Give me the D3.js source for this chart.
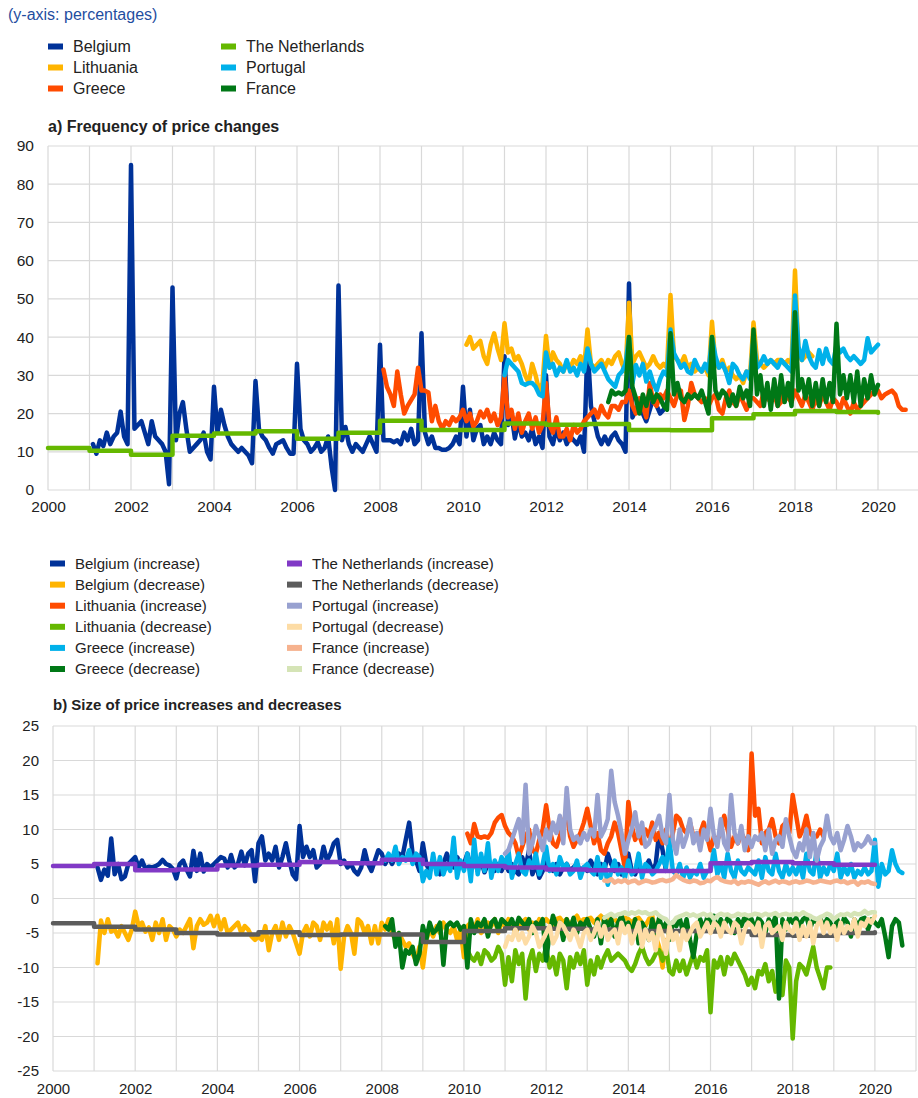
<!DOCTYPE html>
<html>
<head>
<meta charset="utf-8">
<script src="https://cdn.jsdelivr.net/npm/d3@7"></script>
<style>
  body { margin: 0; background: #fff; }
  text { font-family: Arial, "Liberation Sans", sans-serif; }
</style>
</head>
<body>
<svg id="chart" width="918" height="1098"></svg>
<script>
// ---------- data: panel a) frequency of price changes (monthly, %) ----------
const belgiumFreqStart = "2001-02";
const belgiumFreq = [
  12, 9.5, 13, 11.5, 15, 12, 14, 15, 20.5, 14, 12,
  85, 16, 17, 18, 15, 12, 18, 14, 13, 12, 10, 1.5,
  53, 13, 20, 23, 16, 10, 11, 12, 13, 15, 10, 8,
  27, 15, 21, 17, 14, 12, 11, 10, 11, 10, 9, 7,
  28.5, 16, 14, 13, 11, 9.5, 12, 12.5, 13, 11, 9.5, 9.5,
  33, 16, 13, 12, 10, 11, 12.5, 10, 11, 14, 6, 0,
  53.5, 13, 16.5, 12, 10, 12, 11, 10, 12, 14, 12, 10,
  38, 13, 13, 13, 12.5, 13, 12, 15, 13, 16, 12, 13,
  41, 15, 12, 14, 11, 11, 10.5, 10.5, 11, 12, 14, 12,
  27, 14, 21, 13, 16, 17, 12, 14, 12, 15, 13, 12,
  35, 17, 20, 13.5, 18, 14, 15, 13, 16, 12, 14, 11,
  30, 14, 12, 16, 13, 15, 12, 14, 13, 12, 14, 10,
  38, 22, 18, 14, 12, 14, 12, 14, 15, 13, 12, 10,
  54, 19, 21, 22, 20, 18, 21, 24, 22, 20, 21, 23
];
const lithuaniaFreqStart = "2010-02";
const lithuaniaFreq = [
  38, 40, 37, 38, 39, 35, 33, 38, 41, 37, 34,
  43.6, 36, 37, 34, 35, 33, 30, 28, 33, 30, 26, 28,
  40.3, 32, 36, 34, 33, 31, 33, 32, 34, 33, 35, 32,
  42, 33, 32, 33, 34, 32, 34, 33, 35, 36, 33, 31,
  49, 33, 35, 36, 34, 32, 33, 35, 33, 32, 33, 32,
  51, 35, 34, 33, 35, 32, 33, 31, 32, 31, 32, 30,
  44, 33, 32, 34, 31, 32, 30, 29, 30, 28, 31, 30,
  43.8, 34, 33, 32, 33, 34, 33, 34, 34, 33, 34, 33,
  57.4, 36, 34, 35, 36, 35
];
const greeceFreqStart = "2008-02";
const greeceFreq = [
  31.5, 27, 25, 22, 31, 25, 20, 22, 23.5, 25, 32,
  26, 26, 25.5, 18, 22, 18, 16, 18, 17, 19, 18, 19,
  21, 18, 20, 16.6, 18, 20.5, 19, 21, 18, 20, 17, 19,
  30, 19, 21, 16, 20, 15, 18, 20, 16, 19, 15, 17,
  28, 17, 15, 19, 14, 14, 16, 13, 17, 15, 16, 18,
  19, 20, 21, 19, 22, 20, 19, 22, 22, 21, 23, 23,
  26, 22, 20, 24, 22, 19, 28, 23, 22, 25, 24, 26,
  24, 22, 25, 26, 18.3, 22, 28, 25, 24, 23, 24, 22,
  24, 25, 21, 20, 24, 26, 23, 22, 25, 23, 21, 24,
  24, 23, 22, 26, 24, 23, 25, 22, 23, 26, 24, 23,
  26, 24, 22, 25, 23, 21, 24, 22, 25, 23, 21, 24,
  23, 21, 24, 22, 20, 23, 21, 22, 23, 24, 25, 26,
  26, 24, 25, 25.5, 26, 25, 22, 21, 21
];
const portugalFreqStart = "2011-01";
const portugalFreq = [
  30, 34, 33, 32, 31, 28, 27.5, 28, 28, 27, 25, 24.5,
  36, 32, 33, 30, 32, 31, 34, 31, 32, 30, 33, 31,
  37, 33, 31, 32, 33, 31, 29, 28, 27, 30, 31, 33,
  40, 28, 32.7, 30, 33, 28.4, 31, 28, 26, 29, 31, 30,
  42, 35.8, 34, 32, 33, 31, 30.5, 34, 32, 31, 33, 31,
  40, 35, 32, 33, 31, 28, 33, 32, 30, 29, 31, 29,
  40, 32, 33, 35, 33, 34, 33, 32, 34, 33, 32, 31,
  50.9, 37.5, 34, 39, 35, 33, 32, 36.6, 33, 37, 34, 33,
  38, 36, 37, 35, 34, 35, 34, 33, 34, 39.7, 36, 37,
  38
];
const franceFreqStart = "2013-07";
const franceFreq = [
  23, 26, 25, 25.5, 25, 26,
  40, 27, 24, 20, 25, 22, 26, 23, 25, 24, 22, 21,
  41, 25, 28, 24, 23, 25, 24, 25, 24, 26, 23, 20,
  40, 26, 24, 26, 25, 22, 25, 22, 27, 24, 26, 22,
  42, 25, 30, 22, 28, 21, 29, 22, 30, 23, 28, 22,
  46.5, 26, 29, 24, 29, 22, 28, 22, 29, 23, 28, 23,
  43.5, 25, 30, 24, 30, 23, 31, 22, 29, 24, 30, 25,
  27.5
];
// The Netherlands: annual figures, 2000 ... 2019, last value closes the line at 2020
const netherlandsFreqStartYear = 2000;
const netherlandsFreq = [11, 10.3, 9.2, 14.2, 14.8, 15.4, 13.4, 15.0, 18.1, 15.7, 15.7,
  17.4, 17.1, 17.3, 15.7, 15.6, 18.8, 19.8, 20.7, 20.4, 20.2];

// ---------- data: panel b) size of price increases and decreases (monthly, %) ----------
const belgiumSizeStart = "2001-02";
const belgiumInc = [
  4.5, 2.7, 4.2, 3.3, 8.7, 3.5, 5.0, 2.8, 3.2, 5.0, 5.5,
  6.0, 4.5, 5.5, 4.3, 4.6, 4.5, 4.7, 5.0, 5.6, 5.0, 4.8, 4.3,
  2.9, 5.0, 5.5, 4.2, 3.2, 6.9, 4.0, 6.5, 3.9, 5.0, 4.5, 5.0,
  5.5, 6.0, 5.8, 4.5, 6.3, 4.5, 5.0, 6.8, 4.8, 6.5, 7.0, 2.5,
  8.0, 9.0, 5.5, 6.5, 5.5, 7.5, 4.5, 6.0, 8.0, 5.5, 3.5, 2.8,
  10.5, 6.0, 7.5, 6.0, 7.0, 4.5, 5.0, 7.5, 5.5, 6.5, 8.0, 8.5,
  5.0, 5.5, 4.5, 5.0, 4.0, 3.5, 4.5, 7.0, 5.0, 4.0, 5.5, 7.0,
  6.5, 5.0, 6.0, 5.0, 6.0, 6.5, 6.0, 8.5, 11.0, 6.5, 5.5, 4.0,
  8.0, 5.0, 4.0, 5.5, 4.5, 3.5, 5.0, 6.5, 5.0, 4.5, 6.0, 5.0,
  5.0, 6.5, 4.5, 5.5, 4.0, 5.5, 3.8, 5.0, 4.5, 4.0, 5.0, 4.0,
  5.5, 4.0, 5.0, 4.0, 3.5, 6.0, 4.5, 7.0, 3.5, 5.0, 3.0, 4.0,
  5.5, 4.5, 4.0, 5.0, 3.5, 4.5, 5.0, 4.0, 4.5, 5.0, 4.0, 4.5,
  4.0, 5.5, 4.5, 3.5, 5.0, 4.0, 6.5, 5.0, 4.0, 5.0, 3.5, 4.5,
  6.5, 4.0, 3.5, 5.0, 4.0, 4.5, 5.5, 4.0, 5.0, 9.5, 7.0, 4.0
];
const belgiumDec = [
  -9.4, -3.2, -5.0, -3.0, -4.8, -4.5, -5.5, -4.0, -5.0, -6.0, -4.5,
  -1.9, -4.0, -3.5, -4.8, -4.2, -6.0, -3.5, -5.0, -3.0, -6.0, -4.0, -4.5,
  -5.5, -4.5, -5.0, -4.0, -3.0, -7.2, -4.0, -3.0, -3.8, -3.5, -2.5, -4.0,
  -2.5, -4.5, -3.0, -5.0, -4.5, -4.0, -3.5, -5.0, -4.0, -4.5, -5.5, -6.0,
  -5.5, -6.0, -4.0, -7.5, -5.0, -4.0, -6.0, -3.5, -5.5, -4.0, -5.0, -6.5,
  -8.0, -5.0, -4.0, -5.5, -3.5, -4.0, -6.0, -3.5, -4.5, -3.5, -6.5, -3.0,
  -10.2, -5.5, -4.0, -5.0, -8.0, -3.0, -3.5, -5.0, -4.0, -6.5, -4.0, -6.5,
  -3.5, -4.5, -3.0, -5.0, -6.0, -5.0, -6.0, -7.0, -6.5, -8.0, -9.0, -7.0,
  -10.0, -6.0, -4.5, -5.5, -4.0, -5.0, -3.5, -4.5, -5.0, -4.0, -6.0, -4.5,
  -8.5, -4.0, -3.5, -4.5, -3.0, -5.0, -4.5, -3.5, -4.0, -3.0, -5.0, -3.5,
  -4.0, -3.0, -3.5, -5.0, -4.0, -3.5, -3.0, -4.5, -3.5, -4.0, -3.0, -3.5,
  -3.0, -3.5, -4.0, -3.0, -2.8, -3.5, -3.0, -4.0, -3.0, -2.5, -3.5, -3.0,
  -3.0, -2.8, -3.5, -3.0, -2.5, -3.5, -3.0, -2.8, -3.0, -3.5, -3.0, -2.8,
  -3.0, -3.5, -3.0, -2.8, -3.5, -4.0, -3.0, -2.5, -5.5, -7.0, -10.0, -6.0
];
const lithuaniaSizeStart = "2010-02";
const lithuaniaInc = [
  9.4, 8.0, 10.8, 9.0, 8.8, 9.0, 8.8, 9.5, 11.0, 11.7, 12.1,
  10.5, 9.5, 9.0, 8.0, 6.0, 7.5, 9.0, 10.0, 7.0, 6.5, 8.5, 10.0,
  13.5, 10.0, 8.0, 7.5, 9.0, 11.0, 12.5, 9.0, 7.5, 8.5, 9.5, 11.0,
  13.0, 10.5, 8.0, 9.5, 7.0, 6.5, 8.0, 9.0, 11.0, 9.5, 7.0, 4.5,
  14.0, 10.5, 8.5, 9.5, 8.0, 10.0, 9.0, 11.0, 8.5, 9.5, 8.0, 10.0,
  7.0, 9.5, 12.0, 11.5, 10.0, 9.5, 11.0, 9.0, 8.5, 9.5, 11.0, 9.0,
  7.0, 9.0, 8.5, 9.5, 12.0, 10.0, 7.5, 9.0, 8.0, 9.5, 8.5, 7.0,
  21.0, 12.0, 13.0, 8.0, 9.5, 10.0, 11.5, 9.0, 8.0, 10.5, 11.0, 9.5,
  15.0, 12.0, 9.0, 10.0, 12.0, 9.5, 9.0, 9.0, 10.0, 9.0
];
const lithuaniaDec = [
  -7.5, -8.5, -9.0, -8.0, -9.5, -7.5, -8.0, -9.0, -8.5, -7.0, -8.0,
  -12.5, -8.5, -12.0, -7.5, -9.5, -8.0, -14.5, -9.0, -7.5, -10.5, -8.0, -9.0,
  -7.0, -10.0, -8.5, -11.0, -8.0, -9.0, -13.0, -8.5, -10.0, -8.0, -9.5, -7.5,
  -12.5, -9.0, -11.0, -8.5, -10.0, -8.5, -7.5, -9.0, -8.5, -8.0, -8.5, -9.0,
  -10.0, -10.5, -9.5, -8.0, -7.0, -8.5, -9.5, -9.0, -8.0, -7.5, -9.0, -7.0,
  -10.5, -11.0, -9.0, -10.5, -9.0, -11.0, -9.5, -8.0, -10.0, -8.5, -9.0, -7.5,
  -16.5, -9.0, -10.0, -8.5, -11.0, -8.5, -9.5, -8.0, -9.0, -10.0, -11.0, -12.5,
  -11.5, -13.0, -10.5, -11.0, -9.5, -12.0, -10.5, -13.5, -11.5, -14.0, -9.0, -10.0,
  -20.3, -12.0, -9.5, -10.0, -11.0, -9.0, -7.0, -10.0, -11.5, -13.0, -10.0, -10.0
];
const greeceSizeStart = "2008-02";
const greeceInc = [
  5.5, 6.5, 5.5, 7.5, 5.0, 6.0, 5.5, 7.0, 5.0, 6.5, 6.0,
  2.5, 4.0, 3.0, 6.5, 3.5, 6.0, 3.5, 5.0, 4.0, 8.8, 3.0, 5.5,
  4.0, 6.5, 2.5, 8.5, 3.5, 6.5, 4.0, 8.0, 3.0, 5.5, 4.0, 6.0,
  4.5, 7.0, 3.0, 5.0, 6.5, 4.0, 3.5, 5.5, 4.5, 6.5, 3.5, 5.0,
  7.5, 4.0, 5.0, 3.5, 6.0, 4.5, 5.0, 3.5, 4.0, 5.5, 3.0, 4.5,
  5.0, 4.0, 3.5, 6.0, 3.0, 5.0, 2.0, 4.0, 5.5, 3.5, 4.5, 3.0,
  5.5, 3.5, 4.0, 6.5, 3.0, 5.0, 4.5, 3.5, 4.0, 5.0, 6.0, 4.5,
  8.5, 4.0, 3.5, 5.0, 3.0, 4.5, 3.0, 4.0, 3.5, 5.0, 3.0, 4.0,
  4.0, 7.0, 3.5, 5.0, 3.0, 6.5, 4.0, 3.0, 5.5, 4.0, 3.5, 4.5,
  4.0, 3.5, 5.5, 3.0, 6.0, 4.0, 3.5, 6.5, 4.0, 3.0, 5.0, 3.5,
  4.5, 3.5, 5.0, 3.0, 6.5, 4.0, 3.5, 7.0, 3.0, 4.5, 3.5, 5.0,
  4.0, 6.5, 3.0, 4.5, 3.5, 5.0, 3.0, 4.0, 3.5, 4.5, 3.5, 4.0,
  8.5, 1.7, 5.0, 3.5, 4.0, 7.0, 5.0, 4.0, 3.7
];
const greeceDec = [
  -4.0, -4.5, -3.0, -7.0, -5.0, -10.0, -7.5, -8.0, -7.0, -9.5, -8.0,
  -4.0, -6.0, -3.5, -5.0, -4.5, -3.5, -9.6, -4.0, -3.5, -4.0, -3.5, -4.5,
  -4.0, -10.0, -3.0, -5.0, -3.5, -4.0, -3.0, -5.5, -3.5, -3.0, -4.5, -3.0,
  -3.5, -4.0, -3.0, -4.5, -2.8, -3.5, -4.0, -3.0, -5.0, -3.5, -4.0, -3.0,
  -9.0, -5.0, -2.5, -4.0, -3.5, -6.0, -3.0, -4.5, -2.8, -5.0, -3.5, -4.0,
  -3.0, -4.5, -5.5, -3.0, -6.5, -2.8, -4.0, -3.0, -5.5, -3.5, -2.5, -4.0,
  -3.5, -5.0, -3.0, -6.5, -3.5, -4.5, -6.0, -3.0, -5.0, -2.8, -4.5, -3.5,
  -6.0, -3.5, -4.0, -2.8, -5.0, -3.0, -6.0, -8.5, -5.0, -3.0, -4.5, -2.8,
  -3.5, -2.5, -4.5, -3.0, -4.0, -2.8, -3.5, -5.0, -3.0, -4.0, -2.6, -3.5,
  -3.0, -4.5, -2.8, -3.5, -5.0, -3.0, -4.0, -2.5, -14.5, -3.0, -4.5, -2.8,
  -3.5, -2.8, -4.0, -3.0, -2.6, -4.5, -3.0, -3.5, -2.8, -4.0, -3.0, -3.5,
  -5.0, -3.0, -4.5, -2.8, -3.5, -5.5, -3.0, -4.0, -3.0, -2.8, -4.5, -3.0,
  -3.5, -4.0, -3.0, -5.5, -8.5, -4.0, -3.0, -3.5, -6.8
];
const portugalSizeStart = "2011-01";
const portugalInc = [
  6.5, 7.0, 8.5, 10.0, 11.5, 8.0, 16.5, 6.5, 8.0, 10.5, 9.0, 7.0,
  10.0, 8.5, 11.0, 9.5, 12.0, 8.0, 16.0, 10.0, 8.5, 9.0, 8.0, 9.5,
  8.5, 10.0, 9.0, 15.0, 9.0, 10.0, 11.5, 18.5, 14.0, 12.0, 9.5, 6.5,
  8.5, 10.0, 12.5, 9.0, 11.0, 7.5, 8.0, 9.5, 10.5, 12.0, 9.0, 8.0,
  15.0, 8.5, 6.5, 10.0, 7.5, 9.0, 11.5, 8.0, 9.5, 7.0, 10.0, 8.5,
  13.0, 9.0, 7.5, 11.5, 8.0, 7.0, 15.0, 9.5, 8.0, 10.5, 7.0, 9.0,
  7.5, 9.0, 8.5, 9.5, 7.0, 10.0, 6.5, 8.5, 9.0, 7.5, 11.5, 9.0,
  7.0, 6.0, 8.0, 7.0, 10.0, 6.0, 9.5, 5.5, 7.5, 8.5, 12.0, 9.0,
  8.0, 9.5, 7.0, 8.5, 10.5, 9.0, 7.0, 8.0, 7.5, 8.0, 9.0, 8.0,
  8.0
];
const portugalDec = [
  -7.0, -5.5, -6.0, -4.5, -6.0, -5.0, -6.5, -5.5, -4.0, -5.0, -7.0, -6.0,
  -5.0, -4.0, -6.5, -5.5, -3.5, -4.0, -5.0, -6.0, -4.5, -5.5, -7.0, -5.0,
  -4.5, -6.0, -5.0, -3.5, -5.5, -4.0, -6.0, -5.0, -4.5, -6.5, -3.5, -5.0,
  -4.0, -6.5, -5.0, -3.5, -7.0, -4.5, -6.0, -5.0, -7.5, -4.0, -5.5, -8.0,
  -4.0, -6.0, -5.0, -7.5, -4.5, -6.0, -5.0, -4.0, -3.5, -5.5, -4.5, -3.5,
  -5.0, -3.5, -4.0, -5.5, -3.5, -4.5, -5.0, -3.5, -4.0, -6.5, -4.5, -3.5,
  -4.0, -5.0, -3.5, -7.0, -4.0, -3.5, -5.0, -4.5, -4.0, -6.0, -3.5, -4.5,
  -5.0, -3.5, -6.0, -4.0, -5.5, -3.5, -6.5, -4.0, -3.0, -5.0, -3.5, -5.0,
  -4.0, -6.0, -3.5, -5.0, -4.0, -4.5, -3.0, -5.5, -3.5, -4.0, -3.0, -3.5,
  -2.5
];
const franceSizeStart = "2013-06";
const franceInc = [
  2.6, 2.5, 2.8, 2.3, 2.6, 2.4, 2.7,
  2.3, 2.5, 2.6, 2.2, 2.4, 2.6, 2.5, 2.3, 2.4, 2.6, 2.7, 2.5,
  2.6, 2.8, 3.4, 3.0, 2.7, 2.5, 2.4, 2.6, 2.5, 2.2, 2.3, 2.6,
  2.5, 2.9, 3.1, 2.7, 2.5, 2.4, 2.3, 2.6, 2.1, 2.4, 2.3, 2.5,
  2.4, 2.2, 2.0, 2.3, 2.5, 2.2, 2.4, 2.6, 2.3, 2.5, 2.4, 2.2,
  2.4, 2.5, 2.3, 2.4, 2.6, 2.5, 2.3, 2.4, 2.6, 2.5, 2.4, 2.3,
  2.5, 2.6, 2.4, 2.5, 2.2, 2.4, 2.5, 2.0, 2.4, 2.3, 2.5, 2.2,
  2.1
];
const franceDec = [
  -2.8, -2.5, -2.2, -2.6, -2.3, -2.2, -2.0,
  -2.3, -2.0, -2.2, -1.9, -2.1, -2.0, -2.3, -2.2, -2.0, -2.5, -2.8, -3.0,
  -3.6, -3.5, -2.8, -2.6, -2.4, -2.2, -2.5, -2.3, -2.6, -2.4, -2.2, -2.5,
  -2.3, -3.0, -2.5, -2.2, -2.4, -2.3, -2.6, -2.5, -2.2, -2.4, -2.3, -2.5,
  -2.4, -2.2, -2.3, -2.5, -2.2, -2.4, -2.3, -2.1, -2.5, -2.3, -2.2, -2.4,
  -2.3, -2.2, -2.4, -2.0, -2.3, -2.5, -2.8, -3.0, -2.7, -2.5, -2.2, -2.4,
  -3.0, -2.6, -2.3, -2.4, -2.2, -2.5, -2.1, -2.3, -2.2, -1.8, -2.2, -2.0,
  -2.0
];
const netherlandsSizeStartYear = 2000;
const netherlandsInc = [4.7, 5.0, 4.1, 4.2, 4.8, 4.9, 5.3, 5.1, 5.6, 5.0, 4.7,
  4.5, 4.2, 4.1, 4.0, 4.0, 5.1, 5.3, 5.1, 4.9, 4.9];
const netherlandsDec = [-3.6, -4.1, -4.5, -5.0, -5.2, -4.9, -5.3, -5.2, -5.2, -6.3, -4.7,
  -4.3, -4.4, -4.5, -4.7, -4.7, -4.8, -5.3, -5.4, -5.0, -4.9];

// ---------- axis tick values ----------
const freqTicks = [0, 10, 20, 30, 40, 50, 60, 70, 80, 90];
const sizeTicks = [-25, -20, -15, -10, -5, 0, 5, 10, 15, 20, 25];
const yearLabels = [2000, 2002, 2004, 2006, 2008, 2010, 2012, 2014, 2016, 2018, 2020];
const yearGrid = d3.range(2000, 2022);

// ---------- helpers ----------
const startToYear = s => { const [y, m] = s.split("-").map(Number); return y + (m - 1) / 12; };
const monthly = (start, values) => values.map((v, i) => ({ t: startToYear(start) + i / 12, v }));
const annual = (startYear, values) => values.map((v, i) => ({ t: startYear + i, v }));

const svg = d3.select("#chart");

svg.append("text")
  .attr("x", 8).attr("y", 20)
  .attr("font-size", 16).attr("fill", "#1f4e9f")
  .text("(y-axis: percentages)");

function legend(items, x0, x1, y0, step, perCol, fontSize) {
  const g = svg.append("g");
  items.forEach((d, i) => {
    const col = Math.floor(i / perCol), row = i % perCol;
    const sx = col === 0 ? x0 : x1;
    const cy = y0 + row * step;
    g.append("rect").attr("x", sx).attr("y", cy - 3).attr("width", 15).attr("height", 6).attr("fill", d.color);
    g.append("text").attr("x", sx + 25).attr("y", cy + fontSize * 0.35)
      .attr("font-size", fontSize).attr("fill", "#222").text(d.name);
  });
}

function panel(cfg) {
  const x = d3.scaleLinear().domain([2000, 2021]).range([cfg.left, cfg.right]);
  const y = d3.scaleLinear().domain(cfg.yDomain).range([cfg.bottom, cfg.top]);
  const g = svg.append("g");

  g.append("text")
    .attr("x", cfg.left).attr("y", cfg.titleY)
    .attr("font-size", cfg.titleSize).attr("font-weight", "bold").attr("fill", "#222")
    .text(cfg.title);

  // grid
  g.append("g").selectAll("line").data(cfg.yTicks).join("line")
    .attr("x1", cfg.left).attr("x2", cfg.right)
    .attr("y1", d => y(d)).attr("y2", d => y(d))
    .attr("stroke", "#d9d9d9").attr("stroke-width", 1.2);
  g.append("g").selectAll("line").data(yearGrid).join("line")
    .attr("x1", d => x(d)).attr("x2", d => x(d))
    .attr("y1", cfg.top).attr("y2", cfg.bottom)
    .attr("stroke", "#d9d9d9").attr("stroke-width", 1.2);

  // axes (labels only)
  const ya = g.append("g").attr("transform", `translate(${cfg.left},0)`)
    .call(d3.axisLeft(y).tickValues(cfg.yTicks).tickSize(0).tickPadding(14).tickFormat(d => String(d)));
  const xa = g.append("g").attr("transform", `translate(0,${cfg.bottom})`)
    .call(d3.axisBottom(x).tickValues(yearLabels).tickSize(0).tickPadding(cfg.xPad).tickFormat(d => String(d)));
  [ya, xa].forEach(a => {
    a.select(".domain").remove();
    a.selectAll("text").attr("font-size", cfg.tickSize).attr("fill", "#222")
      .style("font-family", "Arial, 'Liberation Sans', sans-serif");
  });

  const line = d3.line().x(d => x(d.t)).y(d => y(d.v));
  const stepLine = d3.line().x(d => x(d.t)).y(d => y(d.v)).curve(d3.curveStepAfter);

  cfg.series.forEach(s => {
    g.append("path")
      .datum(s.points)
      .attr("d", s.step ? stepLine : line)
      .attr("fill", "none")
      .attr("stroke", s.color)
      .attr("stroke-width", 4.5)
      .attr("stroke-linejoin", "round")
      .attr("stroke-linecap", "round");
  });
}

// ---------- panel a ----------
const seriesA = [
  { name: "Belgium", color: "#003299", points: monthly(belgiumFreqStart, belgiumFreq) },
  { name: "Lithuania", color: "#ffb400", points: monthly(lithuaniaFreqStart, lithuaniaFreq) },
  { name: "Greece", color: "#ff4b00", points: monthly(greeceFreqStart, greeceFreq) },
  { name: "The Netherlands", color: "#65b800", step: true, points: annual(netherlandsFreqStartYear, netherlandsFreq) },
  { name: "Portugal", color: "#00b1ea", points: monthly(portugalFreqStart, portugalFreq) },
  { name: "France", color: "#007816", points: monthly(franceFreqStart, franceFreq) }
];
legend(seriesA, 48, 221, 46.5, 21, 3, 16);
panel({
  title: "a) Frequency of price changes", titleY: 132, titleSize: 16,
  left: 48, right: 919.5, top: 146, bottom: 490, tickSize: 15.5, xPad: 11,
  yDomain: [0, 90], yTicks: freqTicks, series: seriesA
});

// ---------- panel b ----------
const seriesB = [
  { name: "Belgium (increase)", color: "#003299", points: monthly(belgiumSizeStart, belgiumInc) },
  { name: "Belgium (decrease)", color: "#ffb400", points: monthly(belgiumSizeStart, belgiumDec) },
  { name: "Lithuania (increase)", color: "#ff4b00", points: monthly(lithuaniaSizeStart, lithuaniaInc) },
  { name: "Lithuania (decrease)", color: "#65b800", points: monthly(lithuaniaSizeStart, lithuaniaDec) },
  { name: "Greece (increase)", color: "#00b1ea", points: monthly(greeceSizeStart, greeceInc) },
  { name: "Greece (decrease)", color: "#007816", points: monthly(greeceSizeStart, greeceDec) },
  { name: "The Netherlands (increase)", color: "#8139c6", step: true, points: annual(netherlandsSizeStartYear, netherlandsInc) },
  { name: "The Netherlands (decrease)", color: "#5c5c5c", step: true, points: annual(netherlandsSizeStartYear, netherlandsDec) },
  { name: "Portugal (increase)", color: "#98a1d0", points: monthly(portugalSizeStart, portugalInc) },
  { name: "Portugal (decrease)", color: "#fddca5", points: monthly(portugalSizeStart, portugalDec) },
  { name: "France (increase)", color: "#f6b28e", points: monthly(franceSizeStart, franceInc) },
  { name: "France (decrease)", color: "#d5e4b6", points: monthly(franceSizeStart, franceDec) }
];
legend(seriesB, 50, 287, 563.5, 21.1, 6, 15);
panel({
  title: "b) Size of price increases and decreases", titleY: 710, titleSize: 15,
  left: 53, right: 916, top: 726, bottom: 1071, tickSize: 15, xPad: 12,
  yDomain: [-25, 25], yTicks: sizeTicks, series: seriesB
});
</script>
</body>
</html>
